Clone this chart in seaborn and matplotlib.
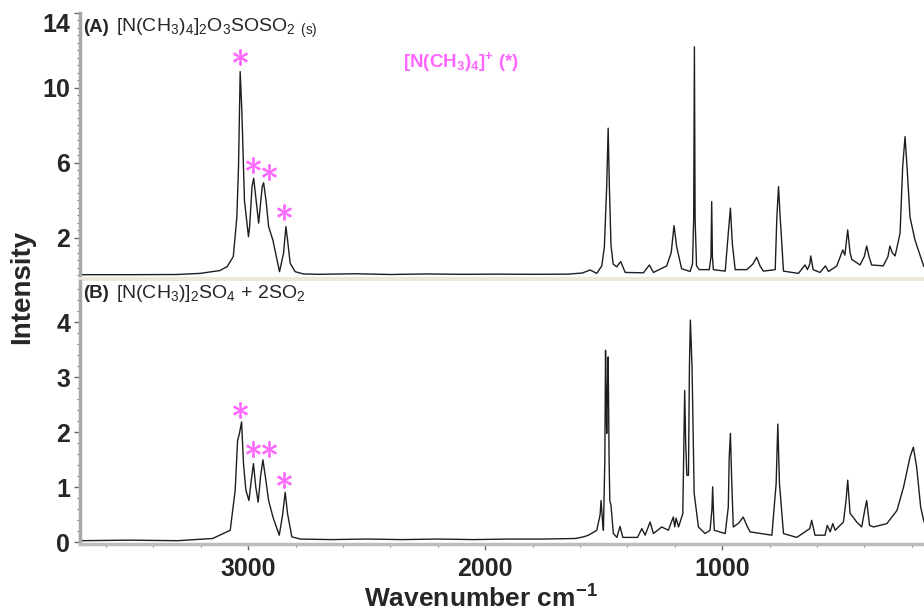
import numpy as np
import pandas as pd
import matplotlib
matplotlib.use("Agg")
import matplotlib.pyplot as plt
from matplotlib.ticker import FixedLocator, MultipleLocator
import seaborn as sns

# ============================================
# Data (wavenumber cm-1, intensity)
# ============================================
wn_a = [3710, 3500, 3300, 3203, 3120, 3089, 3063, 3048, 3041, 3034, 3027, 3016,
        2999, 2994, 2984, 2977, 2970, 2956, 2941, 2935, 2925, 2914, 2896, 2868,
        2851, 2841, 2834, 2823, 2802, 2767, 2700, 2550, 2400, 2250, 2100, 1950,
        1800, 1650, 1590, 1557, 1529, 1508, 1497, 1487, 1481, 1476, 1469, 1460,
        1445, 1428, 1409, 1332, 1307, 1290, 1234, 1215, 1203, 1192, 1171, 1135,
        1125, 1120, 1117, 1114, 1108, 1097, 1054, 1047, 1044, 1041, 1037, 987,
        974, 965, 957, 945, 896, 870, 854, 840, 826, 776, 769, 762, 755, 741,
        678, 650, 640, 630, 626, 620, 616, 587, 564, 551, 516, 491, 482, 470,
        460, 453, 418, 400, 390, 380, 369, 320, 300, 292, 282, 270, 249, 238,
        228, 218, 207, 186, 165, 148]
int_a = [0.03, 0.03, 0.04, 0.1, 0.25, 0.46, 1.0, 3.1, 5.8, 10.87, 8.8, 4.0,
         2.06, 2.6, 4.73, 5.18, 4.38, 2.78, 4.73, 4.94, 4.0, 2.6, 1.88, 0.19,
         1.17, 2.6, 1.88, 0.64, 0.19, 0.07, 0.05, 0.08, 0.04, 0.07, 0.05, 0.06,
         0.05, 0.06, 0.12, 0.28, 0.1, 0.5, 1.5, 4.8, 7.85, 4.8, 1.6, 0.6,
         0.45, 0.73, 0.15, 0.13, 0.55, 0.15, 0.5, 1.2, 2.65, 1.53, 0.35, 0.2,
         0.6, 3.0, 12.2, 3.0, 0.5, 0.3, 0.3, 1.0, 3.93, 1.0, 0.3, 0.22,
         2.24, 3.58, 1.7, 0.3, 0.3, 0.6, 0.96, 0.5, 0.22, 0.3, 3.1, 4.73, 3.1, 0.22,
         0.1, 0.55, 0.3, 0.6, 1.03, 0.6, 0.3, 0.15, 0.5, 0.2, 0.5, 1.35, 1.07, 2.42,
         1.2, 0.85, 0.55, 1.0, 1.56, 1.0, 0.55, 0.5, 1.0, 1.56, 1.2, 1.03, 2.24, 5.8,
         7.4, 5.45, 3.1, 1.88, 1.08, 0.45]

wn_b = [3710, 3500, 3300, 3150, 3076, 3055, 3045, 3037, 3028, 3020, 3010, 2997,
        2988, 2978, 2968, 2958, 2948, 2938, 2928, 2914, 2895, 2869, 2855, 2844,
        2834, 2816, 2780, 2650, 2500, 2350, 2200, 2050, 1900, 1750, 1620, 1585,
        1564, 1529, 1515, 1511, 1505, 1501, 1495, 1492, 1489, 1487, 1484, 1481,
        1477, 1474, 1469, 1459, 1444, 1431, 1419, 1357, 1339, 1325, 1304, 1290,
        1255, 1227, 1206, 1200, 1194, 1184, 1166, 1158, 1154, 1149, 1142, 1138,
        1134, 1127, 1118, 1100, 1072, 1051, 1043, 1040, 1036, 1033, 987, 974,
        970, 965, 960, 953, 930, 911, 895, 882, 790, 772, 765, 758, 741, 685,
        630, 622, 608, 566, 556, 544, 533, 523, 488, 477, 470, 460, 432, 411,
        397, 390, 378, 361, 305, 262, 234, 207, 193, 179, 162, 148]
int_b = [0.03, 0.04, 0.03, 0.07, 0.22, 0.95, 1.85, 1.98, 2.19, 1.43, 0.95, 0.76,
         1.1, 1.43, 1.0, 0.73, 1.2, 1.5, 1.2, 0.76, 0.45, 0.13, 0.5, 0.91,
         0.52, 0.1, 0.06, 0.05, 0.06, 0.05, 0.06, 0.05, 0.06, 0.06, 0.07, 0.1,
         0.13, 0.22, 0.5, 0.76, 0.4, 0.22, 1.5, 3.49, 2.5, 1.98, 2.8, 3.37,
         1.5, 0.76, 0.67, 0.16, 0.09, 0.29, 0.09, 0.09, 0.25, 0.13, 0.37, 0.16,
         0.28, 0.22, 0.46, 0.28, 0.44, 0.28, 0.52, 2.76, 1.85, 1.22, 1.22, 3.19,
         4.04, 3.19, 0.89, 0.28, 0.16, 0.22, 0.6, 1.01, 0.5, 0.22, 0.16, 0.64,
         1.55, 1.98, 1.2, 0.28, 0.35, 0.46, 0.3, 0.19, 0.13, 1.07, 2.15, 1.07, 0.16, 0.09,
         0.25, 0.4, 0.13, 0.13, 0.31, 0.19, 0.34, 0.22, 0.37, 0.76, 1.13, 0.53, 0.37, 0.28,
         0.61, 0.76, 0.31, 0.28, 0.34, 0.58, 1.01, 1.55, 1.73, 1.37, 0.64, 0.37]

# cation band markers (*)
star_a_wn = [3034, 2980, 2914, 2847]
star_a_y = [11.64, 5.89, 5.53, 3.4]
star_b_wn = [3034, 2980, 2914, 2848]
star_b_y = [2.41, 1.70, 1.70, 1.14]

ticks_a = [2, 6, 10, 14]
ticks_b = [0, 1, 2, 3, 4]
ticks_x = [1000, 2000, 3000]

spec_a = pd.DataFrame({'wn': wn_a, 'I': int_a})
spec_b = pd.DataFrame({'wn': wn_b, 'I': int_b})

# ============================================
# Style
# ============================================
sns.set_theme(style='white')
plt.rcParams['font.family'] = ['Liberation Sans', 'DejaVu Sans']
plt.rcParams['font.weight'] = 'bold'
plt.rcParams['mathtext.fontset'] = 'custom'
plt.rcParams['mathtext.rm'] = 'Liberation Sans:weight=normal'
plt.rcParams['mathtext.it'] = 'Liberation Sans:style=italic:weight=normal'
plt.rcParams['mathtext.bf'] = 'Liberation Sans:weight=bold'

W, H = 924, 616
fig = plt.figure(figsize=(W / 100, H / 100), dpi=100)

def px_box(x0, y0, x1, y1):
    return [x0 / W, 1 - y1 / H, (x1 - x0) / W, (y1 - y0) / H]

ax_a = fig.add_axes(px_box(80, 13, 924, 279))
ax_b = fig.add_axes(px_box(80, 281, 924, 544))

LINE = '#1e1e1e'
PINK = '#FF66FF'

sns.lineplot(data=spec_a, x='wn', y='I', ax=ax_a, color=LINE, lw=1.0, sort=False, estimator=None)
sns.lineplot(data=spec_b, x='wn', y='I', ax=ax_b, color=LINE, lw=1.0, sort=False, estimator=None)

sns.scatterplot(x=star_a_wn, y=star_a_y, ax=ax_a, marker='$\\ast$', s=130, color=PINK,
                edgecolor=PINK, linewidth=0.6)
sns.scatterplot(x=star_b_wn, y=star_b_y, ax=ax_b, marker='$\\ast$', s=130, color=PINK,
                edgecolor=PINK, linewidth=0.6)

for ax in (ax_a, ax_b):
    ax.set_xlim(3710, 148)
    ax.set_xlabel('')
    ax.set_ylabel('')
    ax.spines['top'].set_visible(False)
    ax.spines['right'].set_visible(False)
    ax.spines['left'].set_color('#A8A8A8')
    ax.spines['left'].set_linewidth(2.5)
    ax.xaxis.set_major_locator(FixedLocator(ticks_x))
    ax.xaxis.set_minor_locator(MultipleLocator(200))
    ax.tick_params(axis='y', which='major', left=True, length=4, width=1, color='#666666',
                   labelsize=18, pad=3)
    ax.tick_params(axis='y', which='minor', left=True, length=2.5, width=0.8, color='#777777')

# top panel
ax_a.set_ylim(-0.2, 14)
ax_a.yaxis.set_major_locator(FixedLocator(ticks_a))
ax_a.yaxis.set_minor_locator(MultipleLocator(0.4))
ax_a.spines['bottom'].set_color('#ECE9D8')
ax_a.spines['bottom'].set_linewidth(3)
ax_a.tick_params(axis='x', which='both', bottom=False, labelbottom=False)
for lab in ax_a.get_yticklabels():
    if lab.get_text() == '14':
        lab.set_va('top')

# bottom panel
ax_b.set_ylim(-0.03, 4.75)
ax_b.yaxis.set_major_locator(FixedLocator(ticks_b))
ax_b.yaxis.set_minor_locator(MultipleLocator(0.2))
ax_b.spines['bottom'].set_color('#BDBDBD')
ax_b.spines['bottom'].set_linewidth(2.5)
ax_b.tick_params(axis='x', which='major', bottom=True, length=4, width=1, color='#666666',
                 labelsize=18, pad=5)
ax_b.tick_params(axis='x', which='minor', bottom=True, length=2.5, width=0.8, color='#777777')

# ============================================
# Texts
# ============================================
fig.text(83 / W, 1 - 28 / H, "(A)", fontsize=13.5, fontweight='bold', va='center', ha='left')
fig.text(116 / W, 1 - 28 / H, r"[N(CH$_3$)$_4$]$_2$O$_3$SOSO$_2$ $_{\rm (s)}$",
         fontsize=14, fontweight='normal', va='center', ha='left')
fig.text(83 / W, 1 - 294 / H, "(B)", fontsize=13.5, fontweight='bold', va='center', ha='left')
fig.text(116 / W, 1 - 294 / H, r"[N(CH$_3$)]$_2$SO$_4$ + 2SO$_2$",
         fontsize=14, fontweight='normal', va='center', ha='left')
fig.text(461 / W, 1 - 62 / H, r"[N(CH$_\mathbf{3}$)$_\mathbf{4}$]$^\mathbf{+}$ (*)",
         fontsize=13.5, fontweight='bold', color=PINK, va='center', ha='center')

fig.text(22 / W, 1 - 287 / H, 'Intensity', rotation=90, fontsize=20, fontweight='bold',
         va='center', ha='center')
fig.text(481 / W, 3 / H, r"Wavenumber cm$^{\mathbf{-1}}$", fontsize=19, fontweight='bold',
         va='bottom', ha='center')

plt.savefig('out.png', dpi=100)
plt.close()
